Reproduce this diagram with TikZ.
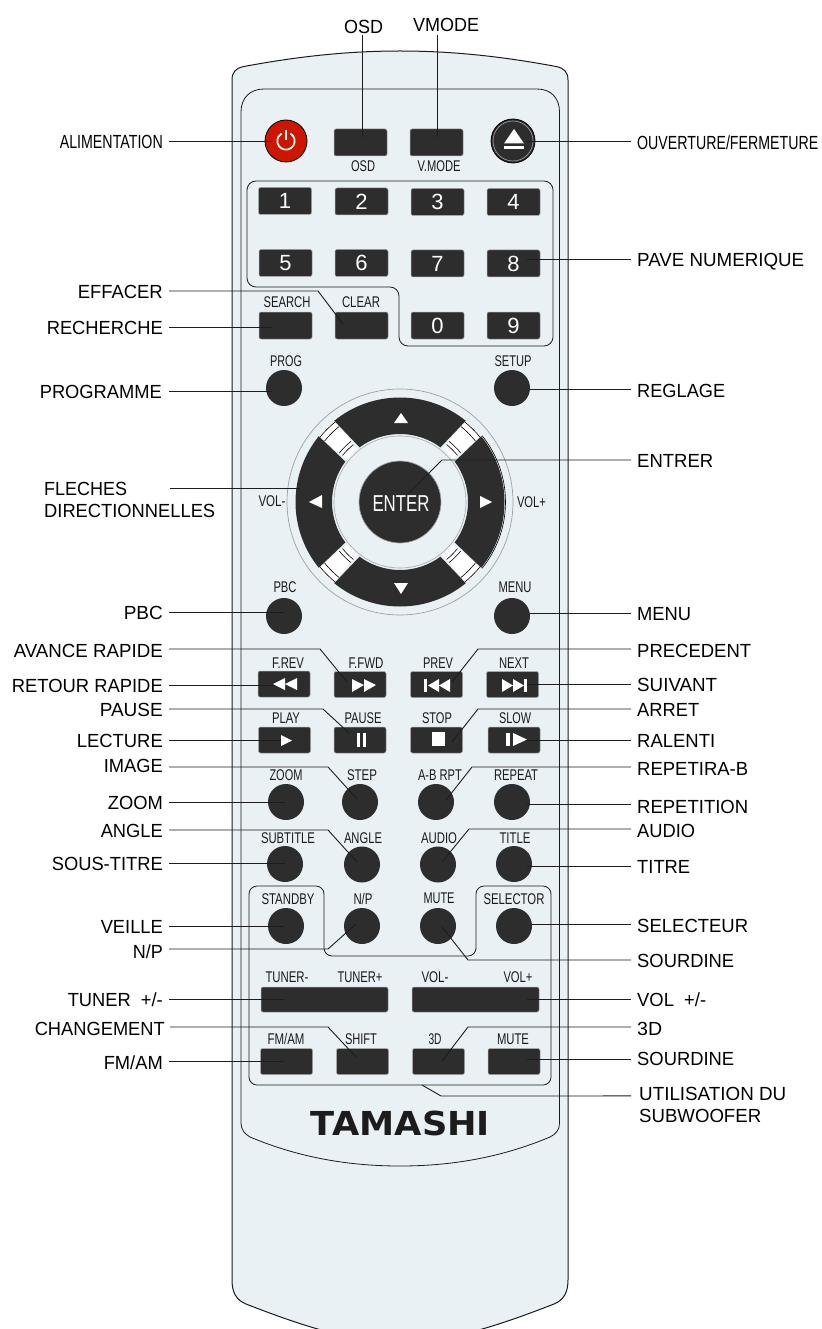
\documentclass[tikz,border=0pt]{standalone}
\usepackage{fontspec}
\usepackage{graphicx}
\setmainfont{Liberation Sans}
\newfontfamily\logofont{DejaVu Sans}[BoldFont={DejaVu Sans Bold}]
\newcommand\fitw[2]{\resizebox{#1pt}{\height}{#2}}
\definecolor{bodyc}{HTML}{E9F1F5}
\definecolor{keyc}{HTML}{2D2D2D}
\definecolor{inkc}{HTML}{1C1C1C}
\definecolor{redc}{HTML}{CC1600}
\tikzset{
  lab/.style={inner sep=0pt,text height=14.5pt,text depth=0pt,font=\fontsize{19}{22}\selectfont,text=black},
  lft/.style={lab,anchor=east},
  rgt/.style={lab,anchor=west},
  multi/.style={inner sep=0pt,align=left,font=\fontsize{19}{22}\selectfont,text=black,anchor=north west},
  captxt/.style={inner sep=0pt,text height=10.5pt,text depth=0pt,font=\fontsize{15.5}{17}\selectfont,text=inkc},
  keybtn/.style={rectangle,rounded corners=2pt,fill=keyc,draw=gray!70,line width=.5pt,minimum width=53pt,minimum height=27pt,inner sep=0pt,text=white,font=\fontsize{22}{24}\selectfont},
  tkey/.style={keybtn,minimum width=52pt,minimum height=26pt},
  widekey/.style={keybtn,minimum width=127pt,minimum height=25pt},
  rnd/.style={circle,fill=keyc,minimum size=36pt,inner sep=0pt},
  conn/.style={draw=inkc,line width=.9pt},
  outl/.style={draw=inkc,line width=.8pt},
}
\begin{document}
\begin{tikzpicture}[x=1pt,y=-1pt]
\useasboundingbox (0,0) rectangle (821,1329);
\begin{scope}
\clip (0,0) rectangle (821,1329);
\fill[white] (0,0) rectangle (821,1329);
% body
\path[fill=bodyc,draw=inkc,line width=1pt] (232,1280) -- (232,80)
  .. controls (232,72) and (236,68) .. (244,66.5)
  .. controls (300,56) and (350,51) .. (400,51)
  .. controls (450,51) and (500,56) .. (556,66.5)
  .. controls (564,68) and (568,72) .. (568,80)
  -- (568,1280)
  .. controls (568,1292) and (564,1300) .. (554,1304)
  .. controls (500,1325) and (450,1342) .. (400,1342)
  .. controls (350,1342) and (300,1325) .. (246,1304)
  .. controls (236,1300) and (232,1292) .. (232,1280) -- cycle;
% inner panel
\path[outl] (241,1123) -- (241,112)
  .. controls (241,98) and (250,89) .. (264,89) -- (537,89)
  .. controls (551,89) and (559.5,98) .. (559.5,112) -- (559.5,1123)
  .. controls (559.5,1130) and (556,1134) .. (550,1137)
  .. controls (500,1158) and (450,1166) .. (400,1166)
  .. controls (350,1166) and (300,1158) .. (250,1137)
  .. controls (245,1134) and (241,1130) .. (241,1123) -- cycle;
\end{scope}
% keypad and lower group outlines
\draw[outl,rounded corners=9pt] (247,181) -- (553,181) -- (553,346) -- (399,346) -- (399,287) -- (247,287) -- cycle;
\draw[outl,rounded corners=8pt] (249,886) -- (324,886) -- (324,956) -- (476,956) -- (476,886) -- (551,886) -- (551,1085) -- (249,1085) -- cycle;

% top row
\node[circle,fill=redc,draw=black,line width=.8pt,minimum size=42pt,inner sep=0pt] (bPower) at (286,141) {};
\draw[white,line width=1.7pt] ([shift={(-60:8.7)}]bPower.center) arc[start angle=-60,end angle=240,radius=8.7];
\draw[white,line width=1.7pt] ([shift={(0,-11)}]bPower.center) -- ([shift={(0,-1)}]bPower.center);
\node[circle,fill=keyc,draw=black,line width=.8pt,minimum size=44pt,inner sep=0pt] (bEject) at (513,141) {};
\draw[gray!80,line width=.7pt] (bEject.center) circle[radius=20];
\fill[white] (514,129) -- (524,143.5) -- (504,143.5) -- cycle;
\fill[white] (504,146) rectangle (524,149);
\node[keybtn] (bOSD) at (360.5,142.5) {};
\node[keybtn] (bVM) at (436.5,142.5) {};
\node[captxt] (tOSD) at (363,166) {\fitw{24}{OSD}};
\node[captxt] (tVM) at (439,166) {\fitw{43}{V.MODE}};

% numeric keys
\node[keybtn] (k1) at (285,201) {1};
\node[keybtn] (k2) at (361.5,201.5) {2};
\node[keybtn] (k3) at (437.5,202) {3};
\node[keybtn] (k4) at (513.5,202) {4};
\node[keybtn] (k5) at (285.5,263) {5};
\node[keybtn] (k6) at (361.5,263) {6};
\node[keybtn] (k7) at (437.5,263.5) {7};
\node[keybtn] (k8) at (513.5,263.5) {8};
\node[keybtn] (k0) at (437.5,325.5) {0};
\node[keybtn] (k9) at (513.5,325.5) {9};
\node[keybtn] (bSearch) at (285.5,325.5) {};
\node[keybtn] (bClear) at (361.5,325.5) {};
\node[captxt] (tSearch) at (287,302) {\fitw{47}{SEARCH}};
\node[captxt] (tClear) at (361,302) {\fitw{38}{CLEAR}};

% round keys
\node[rnd] (bProg) at (284,388) {};
\node[rnd] (bSetup) at (512,388) {};
\node[captxt] (tProg) at (286,361) {\fitw{32}{PROG}};
\node[captxt] (tSetup) at (513,361) {\fitw{37}{SETUP}};

% direction ring
\node[circle,draw=gray!75,line width=.7pt,minimum size=226pt,inner sep=0pt] (bRing) at (400,502) {};
\begin{scope}[shift={(400,502)}]
  \foreach \a in {0,90,180,270} {
    \fill[white,rotate=\a] (309:68) arc[start angle=309,end angle=321,radius=68]
       -- (321:104) arc[start angle=321,end angle=309,radius=104] -- cycle;
    \foreach \r in {103,97,78,74} {
      \draw[black,line width=.6pt,rotate=\a] (309:\r) arc[start angle=309,end angle=321,radius=\r];
    }
  }
  \fill[keyc] (231:104.5) arc[start angle=231,end angle=309,radius=104.5] -- (306.5:68) arc[start angle=306.5,end angle=233.5,radius=68] -- cycle;
  \fill[keyc] (321:104.5) arc[start angle=321,end angle=399,radius=104.5] -- (396.5:68) arc[start angle=396.5,end angle=323.5,radius=68] -- cycle;
  \fill[keyc] (51:104.5) arc[start angle=51,end angle=129,radius=104.5] -- (126.5:68) arc[start angle=126.5,end angle=53.5,radius=68] -- cycle;
  \fill[keyc] (141:104.5) arc[start angle=141,end angle=219,radius=104.5] -- (216.5:68) arc[start angle=216.5,end angle=143.5,radius=68] -- cycle;
  \draw[black,line width=.6pt] (-39:105.5) arc[start angle=-39,end angle=39,radius=105.5];
  \draw[gray!70,line width=.6pt] (0,0) circle[radius=66];
\end{scope}
\fill[white] (401,413) -- (408,423) -- (394,423) -- cycle;
\fill[white] (401,594) -- (408,583) -- (394,583) -- cycle;
\fill[white] (309,502) -- (322,495) -- (322,508) -- cycle;
\fill[white] (492,502) -- (480,496) -- (480,508) -- cycle;
\node[circle,fill=keyc,draw=gray!70,line width=.7pt,minimum size=82pt,inner sep=0pt] (bEnter) at (400,502) {};
\node[inner sep=0pt,text=white,font=\fontsize{23}{24}\selectfont] (tEnter) at (401,504) {\fitw{57}{ENTER}};
\node[captxt] (tVolL) at (272,501) {\fitw{27}{VOL-}};
\node[captxt] (tVolR) at (531.5,502) {\fitw{29}{VOL+}};

\node[rnd] (bPBC) at (284,616) {};
\node[rnd] (bMenu) at (512,616) {};
\node[captxt] (tPBC) at (285,587) {\fitw{23}{PBC}};
\node[captxt] (tMenu) at (515,587) {\fitw{33}{MENU}};

% transport keys
\node[tkey] (bRev) at (284,684) {};
\node[tkey] (bFwd) at (360,684.5) {};
\node[tkey] (bPrev) at (436.5,684.5) {};
\node[tkey] (bNext) at (512.5,684.5) {};
\node[tkey] (bPlay) at (284.5,740) {};
\node[tkey] (bPause) at (360,740) {};
\node[tkey] (bStop) at (436.5,740) {};
\node[tkey] (bSlow) at (514,740) {};
\node[captxt] (tRev) at (288,663) {\fitw{32}{F.REV}};
\node[captxt] (tFwd) at (366,663) {\fitw{35}{F.FWD}};
\node[captxt] (tPrev) at (438,663) {\fitw{30}{PREV}};
\node[captxt] (tNext) at (514,663) {\fitw{30}{NEXT}};
\node[captxt] (tPlay) at (286,718) {\fitw{28}{PLAY}};
\node[captxt] (tPause) at (363,718) {\fitw{37}{PAUSE}};
\node[captxt] (tStop) at (437,718) {\fitw{30}{STOP}};
\node[captxt] (tSlow) at (515,718) {\fitw{32}{SLOW}};

% round rows
\node[rnd] (bZoom) at (286,802) {};
\node[rnd] (bStep) at (360,802) {};
\node[rnd] (bAB) at (436,802) {};
\node[rnd] (bRepeat) at (512,802) {};
\node[captxt] (tZoom) at (286,775) {\fitw{33}{ZOOM}};
\node[captxt] (tStep) at (362,775) {\fitw{30}{STEP}};
\node[captxt] (tAB) at (440,775) {\fitw{44}{A-B RPT}};
\node[captxt] (tRepeat) at (516,775) {\fitw{44}{REPEAT}};
\node[rnd] (bSub) at (285,864) {};
\node[rnd] (bAngle) at (362,864.5) {};
\node[rnd] (bAudio) at (438,864.5) {};
\node[rnd] (bTitle) at (514,864) {};
\node[captxt] (tSub) at (288,838) {\fitw{54}{SUBTITLE}};
\node[captxt] (tAngle) at (363,838) {\fitw{38}{ANGLE}};
\node[captxt] (tAudio) at (439,838) {\fitw{36}{AUDIO}};
\node[captxt] (tTitle) at (515,838) {\fitw{31}{TITLE}};
\node[rnd] (bStandby) at (286,926) {};
\node[rnd] (bNP) at (362,926) {};
\node[rnd] (bMute) at (438,926) {};
\node[rnd] (bSel) at (514,926) {};
\node[captxt] (tStandby) at (288,899) {\fitw{53}{STANDBY}};
\node[captxt] (tNP) at (363,899) {\fitw{19}{N/P}};
\node[captxt] (tMute) at (439,898) {\fitw{31}{MUTE}};
\node[captxt] (tSel) at (514,899) {\fitw{61}{SELECTOR}};

% subwoofer group
\node[widekey] (bTuner) at (324.5,999.5) {};
\node[widekey] (bVol) at (475.5,999.5) {};
\node[captxt] (tTunM) at (287,977) {\fitw{43}{TUNER-}};
\node[captxt] (tTunP) at (360,977) {\fitw{45}{TUNER+}};
\node[captxt] (tVolM) at (435,977) {\fitw{27}{VOL-}};
\node[captxt] (tVolP) at (518,977) {\fitw{29}{VOL+}};
\node[tkey] (bFM) at (286.5,1061.5) {};
\node[tkey] (bShift) at (362.5,1061.5) {};
\node[tkey] (b3D) at (438.5,1061.5) {};
\node[tkey] (bMute2) at (514,1061.5) {};
\node[captxt] (tFM) at (286,1039) {\fitw{37}{FM/AM}};
\node[captxt] (tShift) at (361,1039) {\fitw{32}{SHIFT}};
\node[captxt] (t3D) at (435,1039) {\fitw{13}{3D}};
\node[captxt] (tMute2) at (513,1039) {\fitw{32}{MUTE}};

\node[inner sep=0pt,text=inkc,text height=24pt,text depth=0pt,font=\logofont\bfseries\fontsize{33}{36}\selectfont] (tLogo) at (400.5,1123) {\fitw{179}{TAMASHI}};

% callout labels, left
\node[lft] (lPower) at (163,141) {\fitw{103}{ALIMENTATION}};
\node[lft] (lEff) at (163,291) {\fitw{85}{EFFACER}};
\node[lft] (lRec) at (163,327) {\fitw{116}{RECHERCHE}};
\node[lft] (lProg) at (162,391) {\fitw{122}{PROGRAMME}};
\node[multi] (lFle) at (44,482) {\fitw{83}{FLECHES}\\\fitw{171}{DIRECTIONNELLES}};
\coordinate (sFle) at (170,488);
\node[lft] (lPBC) at (163,612) {\fitw{39}{PBC}};
\node[lft] (lAv) at (163,650) {\fitw{149}{AVANCE RAPIDE}};
\node[lft] (lRet) at (163,685) {\fitw{151}{RETOUR RAPIDE}};
\node[lft] (lPause) at (163,709) {\fitw{63}{PAUSE}};
\node[lft] (lLec) at (163,740) {\fitw{86}{LECTURE}};
\node[lft] (lIm) at (163,765) {\fitw{59}{IMAGE}};
\node[lft] (lZoom) at (163,802) {\fitw{55}{ZOOM}};
\node[lft] (lAng) at (163,830) {\fitw{62}{ANGLE}};
\node[lft] (lSous) at (163,863) {\fitw{111}{SOUS-TITRE}};
\node[lft] (lVe) at (163,926) {\fitw{62}{VEILLE}};
\node[lft] (lNP) at (163,951) {\fitw{30}{N/P}};
\node[lft] (lTun) at (163,999) {\fitw{95}{TUNER\ \ +/-}};
\node[lft] (lCh) at (165,1028) {\fitw{130}{CHANGEMENT}};
\node[lft] (lFM) at (163,1062) {\fitw{59}{FM/AM}};
% callout labels, right
\node[rgt] (rOuv) at (637,142) {\fitw{181}{OUVERTURE/FERMETURE}};
\node[rgt] (rPave) at (637,259) {\fitw{167}{PAVE NUMERIQUE}};
\node[rgt] (rReg) at (637,390) {\fitw{88}{REGLAGE}};
\node[rgt] (rEnt) at (637,460) {\fitw{76}{ENTRER}};
\node[rgt] (rMenu) at (637,613) {\fitw{54}{MENU}};
\node[rgt] (rPre) at (637,650) {\fitw{114}{PRECEDENT}};
\node[rgt] (rSui) at (637,684) {\fitw{80}{SUIVANT}};
\node[rgt] (rArr) at (637,709) {\fitw{62}{ARRET}};
\node[rgt] (rRal) at (637,740) {\fitw{78}{RALENTI}};
\node[rgt] (rRep) at (637,768) {\fitw{111}{REPETIRA-B}};
\node[rgt] (rRept) at (637,806) {\fitw{111}{REPETITION}};
\node[rgt] (rAud) at (637,830) {\fitw{58}{AUDIO}};
\node[rgt] (rTit) at (637,866) {\fitw{53}{TITRE}};
\node[rgt] (rSel) at (637,925) {\fitw{111}{SELECTEUR}};
\node[rgt] (rSou) at (637,960) {\fitw{97}{SOURDINE}};
\node[rgt] (rVol) at (637,999) {\fitw{69}{VOL\ \ +/-}};
\node[rgt] (r3D) at (637,1028) {\fitw{25}{3D}};
\node[rgt] (rSouB) at (637,1058) {\fitw{97}{SOURDINE}};
\node[multi] (rUti) at (639,1087) {\fitw{147}{UTILISATION DU}\\\fitw{122}{SUBWOOFER}};
\node[lab] (lOSD) at (363.5,26) {\fitw{39}{OSD}};
\node[lab] (lVM) at (446,24.5) {\fitw{66}{VMODE}};

% knees
\coordinate (kEff) at (318,291);
\coordinate (kAv) at (320,649);
\coordinate (kPause) at (323,709);
\coordinate (kIm) at (328,767);
\coordinate (kAng) at (328,830);
\coordinate (kNP) at (328,949);
\coordinate (kCh) at (328,1027);
\coordinate (kEnt) at (442,460);
\coordinate (kPre) at (478,649);
\coordinate (kArr) at (478,709);
\coordinate (kRep) at (472,767);
\coordinate (kAud) at (469,829);
\coordinate (kSou) at (468,960);
\coordinate (k3D) at (468,1027);
\coordinate (kUti) at (441,1096);
\coordinate (eUti) at (422,1085);

% connectors
\draw[conn] ([shift={(6,0)}]lPower.east) -- ([shift={(-14,0)}]bPower.center);
\draw[conn] ([shift={(6,0)}]lEff.east) -- (kEff) -- ([shift={(-18.5,-1.5)}]bClear.center);
\draw[conn] ([shift={(6,0)}]lRec.east) -- ([shift={(-13.5,1.5)}]bSearch.center);
\draw[conn] ([shift={(7,0)}]lProg.east) -- ([shift={(-12,3)}]bProg.center);
\draw[conn] (sFle) -- ([shift={(-100,-14)}]bRing.center);
\draw[conn] ([shift={(6,0)}]lPBC.east) -- ([shift={(0,-4)}]bPBC.center);
\draw[conn] ([shift={(6,-1)}]lAv.east) -- (kAv) -- ([shift={(-13,-2.5)}]bFwd.center);
\draw[conn] ([shift={(6,0)}]lRet.east) -- ([shift={(1,1)}]bRev.center);
\draw[conn] ([shift={(6,0)}]lPause.east) -- (kPause) -- ([shift={(-11,-7)}]bPause.center);
\draw[conn] ([shift={(6,0)}]lLec.east) -- ([shift={(0.5,0)}]bPlay.center);
\draw[conn] ([shift={(6,2)}]lIm.east) -- (kIm) -- ([shift={(-3,-3)}]bStep.center);
\draw[conn] ([shift={(6,0)}]lZoom.east) -- ([shift={(-1,0)}]bZoom.center);
\draw[conn] ([shift={(6,0)}]lAng.east) -- (kAng) -- ([shift={(-5,-2.5)}]bAngle.center);
\draw[conn] ([shift={(6,0)}]lSous.east) -- ([shift={(0,-1)}]bSub.center);
\draw[conn] ([shift={(6,0)}]lVe.east) -- ([shift={(-2,0)}]bStandby.center);
\draw[conn] ([shift={(6,-2)}]lNP.east) -- (kNP) -- ([shift={(-6,-2)}]bNP.center);
\draw[conn] ([shift={(6,0)}]lTun.east) -- ([shift={(-40.5,-0.5)}]bTuner.center);
\draw[conn] ([shift={(5,-1)}]lCh.east) -- (kCh) -- ([shift={(-6.5,-4.5)}]bShift.center);
\draw[conn] ([shift={(6,-1)}]lFM.east) -- ([shift={(-2.5,-0.5)}]bFM.center);
\draw[conn] ([shift={(-6,-1)}]rOuv.west) -- ([shift={(14,0)}]bEject.center);
\draw[conn] ([shift={(-6,0)}]rPave.west) -- ([shift={(13.5,-4.5)}]k8.center);
\draw[conn] ([shift={(-6,-1)}]rReg.west) -- ([shift={(18,1)}]bSetup.center);
\draw[conn] ([shift={(-6,0)}]rEnt.west) -- (kEnt) -- ([shift={(9,-9)}]bEnter.center);
\draw[conn] ([shift={(-6,0)}]rMenu.west) -- ([shift={(18,-3)}]bMenu.center);
\draw[conn] ([shift={(-6,-1)}]rPre.west) -- (kPre) -- ([shift={(15.5,-2.5)}]bPrev.center);
\draw[conn] ([shift={(-6,0)}]rSui.west) -- ([shift={(14.5,-0.5)}]bNext.center);
\draw[conn] ([shift={(-6,0)}]rArr.west) -- (kArr) -- ([shift={(15.5,2)}]bStop.center);
\draw[conn] ([shift={(-6,0)}]rRal.west) -- ([shift={(11,0)}]bSlow.center);
\draw[conn] ([shift={(-6,-1)}]rRep.west) -- (kRep) -- ([shift={(10,-2)}]bAB.center);
\draw[conn] ([shift={(-6,-2)}]rRept.west) -- ([shift={(15,2)}]bRepeat.center);
\draw[conn] ([shift={(-6,-1)}]rAud.west) -- (kAud) -- ([shift={(4,-2.5)}]bAudio.center);
\draw[conn] ([shift={(-6,0)}]rTit.west) -- ([shift={(13,2)}]bTitle.center);
\draw[conn] ([shift={(-6,-1)}]rSel.west) -- ([shift={(18,-2)}]bSel.center);
\draw[conn] ([shift={(-6,0)}]rSou.west) -- (kSou) -- ([shift={(4,1)}]bMute.center);
\draw[conn] ([shift={(-6,0)}]rVol.west) -- ([shift={(51.5,-0.5)}]bVol.center);
\draw[conn] ([shift={(-6,-1)}]r3D.west) -- (k3D) -- ([shift={(3.5,-0.5)}]b3D.center);
\draw[conn] ([shift={(-6,1)}]rSouB.west) -- ([shift={(13,-2.5)}]bMute2.center);
\draw[conn] ([shift={(-8,-9)}]rUti.west) -- (kUti) -- (eUti);
\draw[conn] ([shift={(-1.5,1.5)}]lOSD.south) -- ([shift={(1.5,-5.5)}]bOSD.center);
\draw[conn] ([shift={(-9,3)}]lVM.south) -- ([shift={(0.5,-5.5)}]bVM.center);

% transport icons
\fill[white] (273,684) -- (285,678) -- (285,690) -- cycle;
\fill[white] (285,684) -- (297,678) -- (297,690) -- cycle;
\fill[white] (376,685) -- (364,679) -- (364,692) -- cycle;
\fill[white] (364,685) -- (352,679) -- (352,692) -- cycle;
\fill[white] (424,679) rectangle (427,692);
\fill[white] (428,685.5) -- (439,679) -- (439,692) -- cycle;
\fill[white] (439,685.5) -- (450,679) -- (450,692) -- cycle;
\fill[white] (513,685.5) -- (502,679) -- (502,692) -- cycle;
\fill[white] (524,685.5) -- (513,679) -- (513,692) -- cycle;
\fill[white] (524,679) rectangle (527,692);
\fill[white] (292,740.5) -- (281,735) -- (281,746) -- cycle;
\fill[white] (357,733) rectangle (359.5,747);
\fill[white] (363,733) rectangle (366,747);
\fill[white] (432,732) rectangle (445,746);
\fill[white] (506,733) rectangle (510,746);
\fill[white] (527,739.5) -- (513,733) -- (513,746) -- cycle;
\end{tikzpicture}
\end{document}
